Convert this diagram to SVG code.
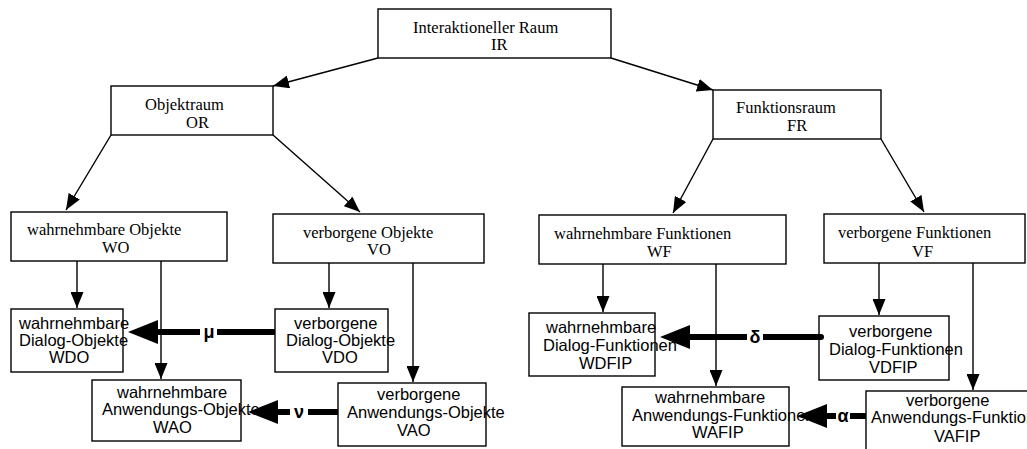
<svg xmlns="http://www.w3.org/2000/svg" width="1027" height="449" viewBox="0 0 1027 449">
<defs>
<style>
.box{fill:#fff;stroke:#000;stroke-width:1.4}
.serif{font-family:"Liberation Serif","Times New Roman",serif;font-size:16.5px;fill:#000}
.sans{font-family:"Liberation Sans",Arial,sans-serif;font-size:16.5px;fill:#000}
.thin{stroke:#000;stroke-width:1.4;fill:none;marker-end:url(#ah)}
.thick{stroke:#000;stroke-width:6;fill:none;marker-end:url(#big)}
.lbl{font-family:"Liberation Sans",Arial,sans-serif;font-size:18px;font-weight:bold;fill:#000;text-anchor:middle}
</style>
<marker id="ah" markerUnits="userSpaceOnUse" markerWidth="16" markerHeight="13" refX="16" refY="6.5" orient="auto">
<path d="M0,0 L16,6.5 L0,13 z" fill="#000"/>
</marker>
<marker id="big" markerUnits="userSpaceOnUse" markerWidth="30" markerHeight="24" refX="0" refY="12" orient="auto" overflow="visible">
<path d="M0,0 L30,12 L0,24 z" fill="#000"/>
</marker>
</defs>
<rect width="1027" height="449" fill="#fff"/>

<g id="IR"><rect class="box" x="378" y="9" width="233" height="49"/>
<text class="serif" x="413" y="33">Interaktioneller Raum</text><text class="serif" x="491" y="50">IR</text></g>
<g id="OR"><rect class="box" x="111" y="86" width="162" height="49"/>
<text class="serif" x="145" y="110">Objektraum</text><text class="serif" x="186" y="128">OR</text></g>
<g id="FR"><rect class="box" x="713" y="90" width="168" height="49"/>
<text class="serif" x="736" y="113">Funktionsraum</text><text class="serif" x="787" y="131">FR</text></g>
<g id="WO"><rect class="box" x="11" y="212" width="216" height="49"/>
<text class="serif" x="27" y="235">wahrnehmbare Objekte</text><text class="serif" x="102" y="253">WO</text></g>
<g id="VO"><rect class="box" x="273" y="214" width="211" height="49"/>
<text class="serif" x="303" y="238">verborgene Objekte</text><text class="serif" x="367" y="255">VO</text></g>
<g id="WF"><rect class="box" x="539" y="215" width="247" height="49"/>
<text class="serif" x="554" y="239">wahrnehmbare Funktionen</text><text class="serif" x="647" y="257">WF</text></g>
<g id="VF"><rect class="box" x="824" y="214" width="201" height="49"/>
<text class="serif" x="838" y="238">verborgene Funktionen</text><text class="serif" x="912" y="257">VF</text></g>

<g id="WDO"><rect class="box" x="11" y="309" width="112" height="63"/>
<text class="sans" x="19" y="329">wahrnehmbare</text><text class="sans" x="19" y="346">Dialog-Objekte</text><text class="sans" x="49" y="363">WDO</text></g>
<g id="VDO"><rect class="box" x="275" y="309" width="113" height="63"/>
<text class="sans" x="294" y="329">verborgene</text><text class="sans" x="286" y="346">Dialog-Objekte</text><text class="sans" x="322" y="363">VDO</text></g>
<g id="WAO"><rect class="box" x="92" y="380" width="149" height="61"/>
<text class="sans" x="117" y="398">wahrnehmbare</text><text class="sans" x="102" y="415">Anwendungs-Objekte</text><text class="sans" x="153" y="433">WAO</text></g>
<g id="VAO"><rect class="box" x="338" y="383" width="148" height="63"/>
<text class="sans" x="377" y="400">verborgene</text><text class="sans" x="347" y="418">Anwendungs-Objekte</text><text class="sans" x="397" y="436">VAO</text></g>
<g id="WDFIP"><rect class="box" x="529" y="313" width="126" height="63"/>
<text class="sans" x="546" y="333">wahrnehmbare</text><text class="sans" x="543" y="351">Dialog-Funktionen</text><text class="sans" x="579" y="369">WDFIP</text></g>
<g id="VDFIP"><rect class="box" x="819" y="316" width="130" height="64"/>
<text class="sans" x="849" y="337">verborgene</text><text class="sans" x="829" y="355">Dialog-Funktionen</text><text class="sans" x="869" y="373">VDFIP</text></g>
<g id="WAFIP"><rect class="box" x="622" y="387" width="167" height="59"/>
<text class="sans" x="655" y="403">wahrnehmbare</text><text class="sans" x="632" y="421">Anwendungs-Funktionen</text><text class="sans" x="692" y="438">WAFIP</text></g>
<g id="VAFIP"><rect class="box" x="866" y="391" width="175" height="70"/>
<text class="sans" x="906" y="406">verborgene</text><text class="sans" x="871" y="423">Anwendungs-Funktionen</text><text class="sans" x="934" y="442">VAFIP</text></g>

<g id="connectors">
<line class="thick" x1="275" y1="332" x2="158" y2="332"/>
<rect x="200" y="322" width="17" height="20" fill="#fff"/>
<text class="lbl" x="209" y="338">μ</text>
<line class="thick" x1="338" y1="412" x2="278" y2="412"/>
<rect x="290" y="402" width="18" height="20" fill="#fff"/>
<text class="lbl" x="299" y="418">ν</text>
<line class="thick" x1="821" y1="337" x2="690" y2="337" stroke-linecap="round"/>
<rect x="747" y="327" width="16" height="20" fill="#fff"/>
<text class="lbl" x="755" y="343">δ</text>
<line class="thick" x1="866" y1="416" x2="827" y2="416"/>
<rect x="836" y="406" width="14" height="20" fill="#fff"/>
<text class="lbl" x="843" y="422">α</text>

<line class="thin" x1="378" y1="58" x2="273" y2="86"/>
<line class="thin" x1="611" y1="58" x2="713" y2="90"/>
<line class="thin" x1="111" y1="135" x2="66" y2="210"/>
<line class="thin" x1="273" y1="135" x2="360" y2="212"/>
<line class="thin" x1="713" y1="139" x2="673" y2="213"/>
<line class="thin" x1="881" y1="139" x2="924" y2="212"/>
<line class="thin" x1="77" y1="261" x2="77" y2="308"/>
<line class="thin" x1="161" y1="261" x2="161" y2="379"/>
<line class="thin" x1="329" y1="263" x2="329" y2="308"/>
<line class="thin" x1="413" y1="263" x2="413" y2="382"/>
<line class="thin" x1="603" y1="264" x2="603" y2="312"/>
<line class="thin" x1="716" y1="264" x2="716" y2="386"/>
<line class="thin" x1="879" y1="263" x2="879" y2="315"/>
<line class="thin" x1="973" y1="263" x2="973" y2="390"/>
</g>
</svg>
